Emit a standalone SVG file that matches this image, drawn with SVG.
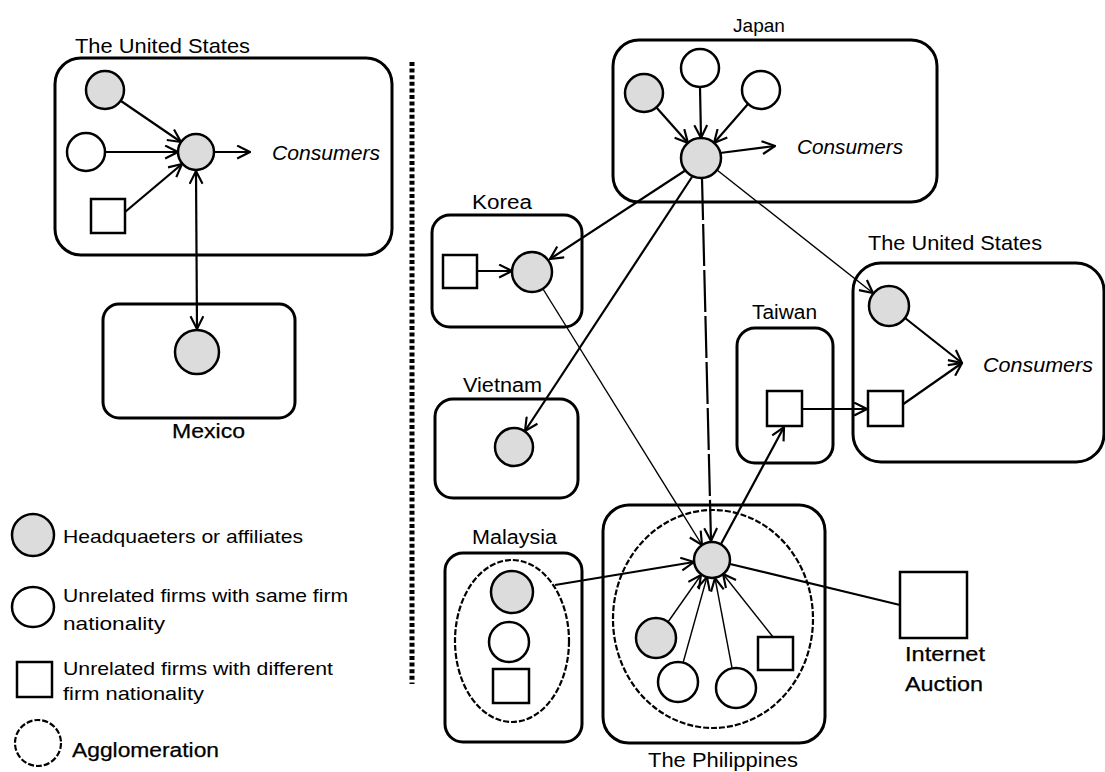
<svg xmlns="http://www.w3.org/2000/svg" width="1105" height="772" viewBox="0 0 1105 772">
<style>
text{font-family:"Liberation Sans",Arial,sans-serif;fill:#000}
.lbl{font-size:20px}
.it{font-size:21px;font-style:italic}
.bd{font-size:20px;stroke:#000;stroke-width:0.25}
.leg{font-size:19px}
.box{fill:none;stroke:#000;stroke-width:3}
.g{fill:#dcdcdc;stroke:#000;stroke-width:2.5}
.w{fill:#fff;stroke:#000;stroke-width:2.5}
.sq{fill:#fff;stroke:#000;stroke-width:2.5}
.agg{fill:none;stroke:#000;stroke-width:2.2;stroke-dasharray:6 2}
.c{fill:none;stroke:#000;stroke-width:2.2}
.t{fill:none;stroke:#000;stroke-width:1.4}
.a{marker-end:url(#ah)}
.sep{fill:none;stroke:#000;stroke-width:5;stroke-dasharray:4 2.6}
</style>
<defs>
<marker id="ah" viewBox="0 0 14 14" refX="13" refY="7" markerWidth="15" markerHeight="15" markerUnits="userSpaceOnUse" orient="auto-start-reverse">
<path d="M1,1 L13,7 L1,13" fill="none" stroke="#000" stroke-width="2"/>
</marker>
</defs>
<rect width="1105" height="772" fill="#fff"/>

<line id="separator" class="sep" x1="412" y1="62" x2="412" y2="684"/>

<g id="us-left">
<rect class="box" x="55" y="58" width="337" height="197" rx="26"/>
<text class="lbl" x="75" y="53" style="font-size:21px" textLength="175" lengthAdjust="spacingAndGlyphs">The United States</text>
<text class="it" x="272" y="160" textLength="108" lengthAdjust="spacingAndGlyphs">Consumers</text>
</g>
<g id="mexico">
<rect class="box" x="103" y="304" width="192" height="114" rx="16"/>
<text class="bd" x="172" y="438" textLength="73" lengthAdjust="spacingAndGlyphs">Mexico</text>
</g>
<g id="japan">
<rect class="box" x="613" y="40" width="324" height="162" rx="26"/>
<text class="lbl" x="733" y="32" style="font-size:19px" textLength="52" lengthAdjust="spacingAndGlyphs">Japan</text>
<text class="it" x="797" y="154" textLength="106" lengthAdjust="spacingAndGlyphs">Consumers</text>
</g>
<g id="korea">
<rect class="box" x="432" y="215" width="150" height="112" rx="18"/>
<text class="lbl" x="472" y="209" textLength="60" lengthAdjust="spacingAndGlyphs">Korea</text>
</g>
<g id="vietnam">
<rect class="box" x="435" y="399" width="143" height="99" rx="18"/>
<text class="lbl" x="463" y="392" textLength="79" lengthAdjust="spacingAndGlyphs">Vietnam</text>
</g>
<g id="taiwan">
<rect class="box" x="737" y="328" width="96" height="135" rx="18"/>
<text class="lbl" x="752" y="319" textLength="65" lengthAdjust="spacingAndGlyphs">Taiwan</text>
</g>
<g id="us-right">
<rect class="box" x="853" y="263" width="251" height="199" rx="28"/>
<text class="lbl" x="868" y="250" style="font-size:21px" textLength="174" lengthAdjust="spacingAndGlyphs">The United States</text>
<text class="it" x="983" y="372" textLength="110" lengthAdjust="spacingAndGlyphs">Consumers</text>
</g>
<g id="malaysia">
<rect class="box" x="445" y="553" width="137" height="189" rx="18"/>
<ellipse class="agg" cx="512" cy="641" rx="57" ry="81"/>
<text class="lbl" x="472" y="544" textLength="85" lengthAdjust="spacingAndGlyphs">Malaysia</text>
</g>
<g id="philippines">
<rect class="box" x="603" y="505" width="222" height="238" rx="26"/>
<ellipse class="agg" cx="713" cy="619" rx="100" ry="109"/>
<text class="lbl" x="648" y="767" textLength="150" lengthAdjust="spacingAndGlyphs">The Philippines</text>
</g>
<g id="internet-auction">
<rect class="sq" x="900" y="572" width="67" height="66"/>
<text class="bd" x="905" y="661" textLength="80" lengthAdjust="spacingAndGlyphs">Internet</text>
<text class="bd" x="905" y="691" textLength="78" lengthAdjust="spacingAndGlyphs">Auction</text>
</g>

<g id="connectors">
<line class="c a" x1="121" y1="101" x2="181" y2="142"/>
<line class="c a" x1="105" y1="152" x2="178" y2="152"/>
<line class="c a" x1="125" y1="212" x2="182" y2="164"/>
<line class="c a" x1="214" y1="152" x2="250" y2="152"/>
<line class="c" x1="196" y1="171" x2="197" y2="329" marker-start="url(#ah)" marker-end="url(#ah)"/>

<line class="c a" x1="656" y1="107" x2="688" y2="143"/>
<line class="c a" x1="700" y1="87" x2="701" y2="138"/>
<line class="c a" x1="748" y1="104" x2="714" y2="143"/>
<line class="c a" x1="720" y1="153" x2="775" y2="146"/>
<line class="c a" x1="686" y1="170" x2="550" y2="259"/>
<line class="c a" x1="692" y1="177" x2="525" y2="431"/>
<line class="c a" x1="702" y1="178" x2="711" y2="541" stroke-dasharray="42 4"/>
<line class="t a" x1="717" y1="170" x2="873" y2="293"/>

<line class="c a" x1="477" y1="271" x2="512" y2="271"/>
<line class="t a" x1="543" y1="289" x2="702" y2="545"/>

<line class="c a" x1="802" y1="409" x2="867" y2="409"/>
<line class="c a" x1="721" y1="544" x2="784" y2="427"/>
<line class="c a" x1="905" y1="318" x2="962" y2="363"/>
<line class="c a" x1="902" y1="405" x2="962" y2="363"/>

<line class="c a" x1="555" y1="585" x2="694" y2="562"/>
<line class="t a" x1="668" y1="622" x2="701" y2="575"/>
<line class="t a" x1="683" y1="663" x2="707" y2="577"/>
<line class="t a" x1="732" y1="668" x2="715" y2="578"/>
<line class="t a" x1="773" y1="637" x2="723" y2="574"/>
<line class="c" x1="730" y1="564" x2="900" y2="605"/>
</g>

<g id="us-hq"><circle class="g" cx="105" cy="90" r="19"/></g>
<g id="us-unrelated-same"><circle class="w" cx="86" cy="152" r="19"/></g>
<g id="us-unrelated-diff"><rect class="sq" x="91" y="199" width="34" height="34"/></g>
<g id="us-central"><circle class="g" cx="196" cy="152" r="18"/></g>
<g id="mexico-affiliate"><circle class="g" cx="197" cy="352" r="22"/></g>

<g id="jp-hq"><circle class="g" cx="644" cy="93" r="19"/></g>
<g id="jp-same-1"><circle class="w" cx="700" cy="68" r="19"/></g>
<g id="jp-same-2"><circle class="w" cx="761" cy="90" r="19"/></g>
<g id="jp-central"><circle class="g" cx="701" cy="158" r="20"/></g>

<g id="kr-diff"><rect class="sq" x="443" y="255" width="34" height="33"/></g>
<g id="kr-affiliate"><circle class="g" cx="532" cy="272" r="20"/></g>
<g id="vn-affiliate"><circle class="g" cx="514" cy="447" r="19"/></g>
<g id="tw-diff"><rect class="sq" x="767" y="391" width="35" height="35"/></g>
<g id="us-affiliate"><circle class="g" cx="889" cy="306" r="20"/></g>
<g id="us-diff"><rect class="sq" x="868" y="391" width="35" height="35"/></g>

<g id="my-hq"><circle class="g" cx="512" cy="592" r="21"/></g>
<g id="my-same"><circle class="w" cx="509" cy="642" r="20"/></g>
<g id="my-diff"><rect class="sq" x="493" y="669" width="36" height="34"/></g>

<g id="ph-central"><circle class="g" cx="712" cy="560" r="18"/></g>
<g id="ph-hq"><circle class="g" cx="656" cy="638" r="20"/></g>
<g id="ph-same-1"><circle class="w" cx="678" cy="682" r="20"/></g>
<g id="ph-same-2"><circle class="w" cx="736" cy="688" r="20"/></g>
<g id="ph-diff"><rect class="sq" x="758" y="637" width="35" height="33"/></g>

<g id="legend">
<circle class="g" cx="33" cy="535" r="21"/>
<text class="leg" x="63" y="543" textLength="240" lengthAdjust="spacingAndGlyphs">Headquaeters or affiliates</text>
<ellipse class="w" cx="33" cy="607" rx="21" ry="20"/>
<text class="leg" x="63" y="602" textLength="285" lengthAdjust="spacingAndGlyphs">Unrelated firms with same firm</text>
<text class="leg" x="63" y="630" textLength="102" lengthAdjust="spacingAndGlyphs">nationality</text>
<rect class="sq" x="17" y="662" width="35" height="35"/>
<text class="leg" x="63" y="675" textLength="270" lengthAdjust="spacingAndGlyphs">Unrelated firms with different</text>
<text class="leg" x="63" y="700" textLength="141" lengthAdjust="spacingAndGlyphs">firm nationality</text>
<circle class="agg" cx="38" cy="743" r="23"/>
<text class="bd" x="72" y="757" textLength="147" lengthAdjust="spacingAndGlyphs">Agglomeration</text>
</g>
</svg>
